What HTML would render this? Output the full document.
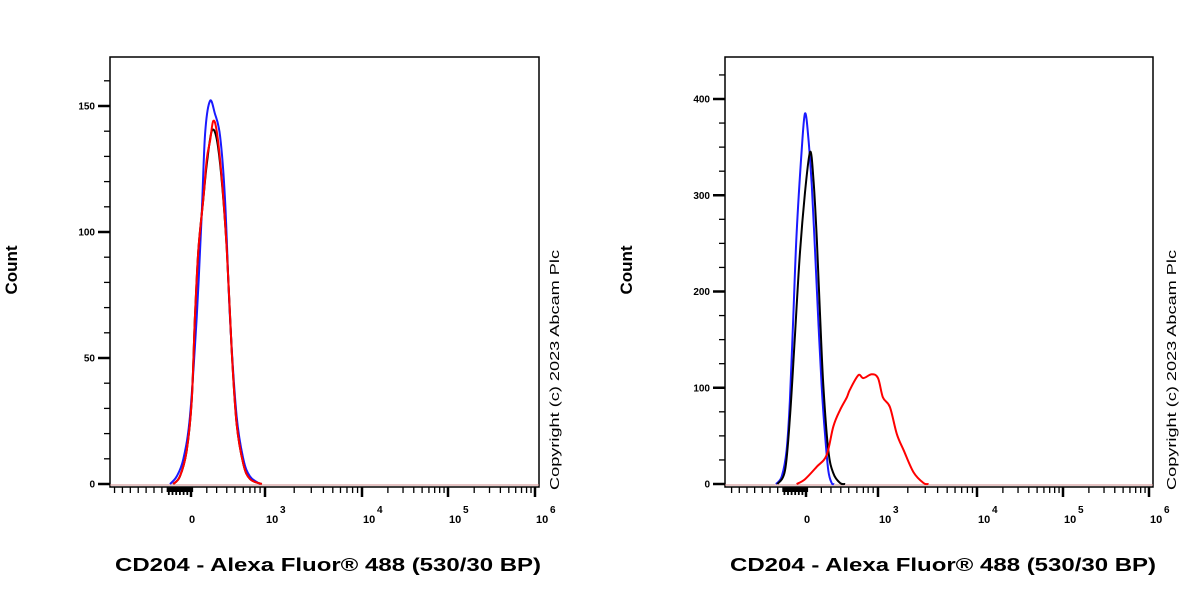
<!DOCTYPE html>
<html><head><meta charset="utf-8"><style>
html,body{margin:0;padding:0;background:#fff;}
svg{display:block;font-family:"Liberation Sans",Arial,sans-serif;}
</style></head><body>
<svg id="chart" width="1200" height="600" viewBox="0 0 1200 600" xmlns="http://www.w3.org/2000/svg"></svg>
<script>
// ---- data (x in display-decade units: 0 = "0", 3 = 10^3, 4 = 10^4 ...) ----
const xTickValues = [0, 3, 4, 5, 6];
const xTickLabels = ["0", "10|3", "10|4", "10|5", "10|6"];
const leftYTicks = [0, 50, 100, 150];
const rightYTicks = [0, 100, 200, 300, 400];

const leftBlueX = [-0.85,-0.58,-0.31,-0.04,0.23,0.43,0.57,0.77,0.97,1.18,1.38,1.58,1.85,2.12,2.39,2.8];
const leftBlueY = [0,3,10,27,66,106,139,152,147,138,113,66,27,10,3,0];
const leftBlackX = [-0.72,-0.45,-0.18,0.03,0.16,0.3,0.5,0.64,0.84,1.04,1.24,1.45,1.65,1.85,2.12,2.39,2.87];
const leftBlackY = [0,3,13,33,66,93,113,127,140,137,121,93,53,24,8,2,0];
const leftRedX = [-0.72,-0.45,-0.18,0.03,0.16,0.3,0.5,0.64,0.77,0.9,1.04,1.24,1.45,1.65,1.85,2.12,2.39,2.87];
const leftRedY = [0,3,13,33,66,93,113,129,136,144,140,122,93,53,24,8,2,0];

const rightBlueX = [-1.25,-1.01,-0.81,-0.67,-0.53,-0.39,-0.18,-0.04,0.1,0.24,0.38,0.51,0.65,0.79,0.93,1.07,1.17];
const rightBlueY = [0,8,35,87,174,260,347,385,359,310,241,172,103,52,14,1,0];
const rightBlackX = [-1.19,-0.875,-0.67,-0.46,-0.25,-0.04,0.17,0.31,0.45,0.58,0.72,0.93,1.14,1.42,1.63];
const rightBlackY = [0,14,69,155,241,303,345,317,255,179,103,35,11,1,0];
const rightRedX = [-0.39,-0.04,0.45,0.86,1.14,1.42,1.7,1.83,2.18,2.39,2.74,3.0,3.05,3.12,3.19,3.26,3.36,3.46,3.51];
const rightRedY = [0,5,18,30,60,77,90,98,113,110,114,110,90,80,52,35,12,1,0];

const NS = "http://www.w3.org/2000/svg";
const svg = document.getElementById("chart");
function el(tag, attrs, parent){
  const e = document.createElementNS(NS, tag);
  for (const k in attrs) e.setAttribute(k, attrs[k]);
  (parent||svg).appendChild(e);
  return e;
}
function smoothPath(pts){
  let d = "M" + pts[0][0].toFixed(1) + "," + pts[0][1].toFixed(1);
  for (let i=0;i<pts.length-1;i++){
    const p0 = pts[Math.max(0,i-1)], p1 = pts[i], p2 = pts[i+1], p3 = pts[Math.min(pts.length-1,i+2)];
    const c1x = p1[0] + (p2[0]-p0[0])/6, c1y = p1[1] + (p2[1]-p0[1])/6;
    const c2x = p2[0] - (p3[0]-p1[0])/6, c2y = p2[1] - (p3[1]-p1[1])/6;
    d += "C" + c1x.toFixed(1) + "," + Math.min(c1y,486).toFixed(1) + " " + c2x.toFixed(1) + "," + Math.min(c2y,486).toFixed(1) + " " + p2[0].toFixed(1) + "," + p2[1].toFixed(1);
  }
  return d;
}

function makePlot(cfg){
  const g = el("g", {});
  
  
  const knotsD = [0,3,4,5,6];
  const xs = d => {
    if (d <= 3) return cfg.xk[0] + d*(cfg.xk[1]-cfg.xk[0])/3;
    for (let i=1;i<4;i++){ if (d <= knotsD[i+1]) return cfg.xk[i] + (d-knotsD[i])*(cfg.xk[i+1]-cfg.xk[i]); }
    return cfg.xk[4];
  };
  const ys = v => cfg.y0 - v*cfg.yPer;
  const fr = el("rect", {x:cfg.L, y:57, width:cfg.R-cfg.L, height:430, fill:"none", stroke:"#000", "stroke-width":1.5}, g);
  
  
  for (let v=0; ys(v) >= 60; v+=cfg.yMinor){
    const t = el("line", {x1:cfg.L-6, x2:cfg.L, y1:ys(v), y2:ys(v), stroke:"#000", "stroke-width":1.3}, g);
    
    
  }
  cfg.yTicks.forEach(v=>{
    const t = el("line", {x1:cfg.L-12, x2:cfg.L, y1:ys(v), y2:ys(v), stroke:"#000", "stroke-width":2.5}, g);
    
    
    const tx = el("text", {x:cfg.L-15, y:ys(v)+3.5, "text-anchor":"end", "font-size":10, "font-weight":"bold"}, g);
    tx.textContent = String(v);
    
    
  });
  const axY = 487;
  const minor = [];
  for (let d=-3.1; d<-0.9; d+=0.32) minor.push(d);
  [0.64,1.04,1.45,1.78,2.12,2.39,2.59,2.8].forEach(d=>minor.push(d));
  for (let dec=3; dec<6; dec++) for (let k=2;k<10;k++) minor.push(dec+Math.log10(k));
  minor.forEach(d=>{
    const t = el("line", {x1:xs(d), x2:xs(d), y1:axY, y2:axY+6, stroke:"#000", "stroke-width":1.3}, g);
    
    
  });
  for (let d=-0.95; d<0.1; d+=0.05){
    const t = el("line", {x1:xs(d), x2:xs(d), y1:axY, y2:axY+(Math.round(d*20)%3?5:8), stroke:"#000", "stroke-width":1.8}, g);
    
    
  }
  xTickValues.forEach((d,i)=>{
    const t = el("line", {x1:xs(d), x2:xs(d), y1:axY, y2:axY+10, stroke:"#000", "stroke-width":2.5}, g);
    
    
    const parts = xTickLabels[i].split("|");
    const tx = el("text", {x:parts[1]?xs(d)+1:xs(d)+1, y:523, "text-anchor":parts[1]?"start":"middle", "font-size":11, "font-weight":"bold"}, g);
    tx.textContent = parts[0];
    
    
    if (parts[1]){
      const sp = el("text", {x:xs(d)+15, y:513, "font-size":10, "font-weight":"bold"}, g);
      sp.textContent = parts[1];
      
      
    }
  });
  const bl = el("line", {x1:cfg.L, x2:cfg.R, y1:ys(0)+1, y2:ys(0)+1, stroke:"#c88", "stroke-width":1}, g);
  
  
  cfg.series.forEach(s=>{
    const pts = s.x.map((d,i)=>[xs(d), ys(s.y[i])]);
    const p = el("path", {d:smoothPath(pts), fill:"none", stroke:s.color, "stroke-width":2, "stroke-linejoin":"round"}, g);
    
    
  });
  const yl = el("text", {x:0, y:0, transform:`translate(${cfg.countX},270) rotate(-90)`, "text-anchor":"middle", "font-size":17, "font-weight":"bold"}, g);
  yl.textContent = "Count";
  
  
  const xl = el("text", {x:cfg.titleX, y:571, "text-anchor":"middle", "font-size":18, "font-weight":"bold", textLength:426, lengthAdjust:"spacingAndGlyphs"}, g);
  xl.textContent = "CD204 - Alexa Fluor® 488 (530/30 BP)";
  
  
  const cp = el("text", {x:0, y:0, transform:`translate(${cfg.copyX},370) rotate(-90)`, "text-anchor":"middle", "font-size":13, textLength:240, lengthAdjust:"spacingAndGlyphs"}, g);
  cp.textContent = "Copyright (c) 2023 Abcam Plc";
  
  
}

makePlot({name:"left-histogram", L:110, R:539, xk:[191,265,362,448,535], y0:484, yPer:2.52, yTicks:leftYTicks, yMinor:10,
  countX:17, titleX:328, copyX:559,
  series:[{name:"left-blue-curve",color:"#1a1aff",x:leftBlueX,y:leftBlueY},
          {name:"left-black-curve",color:"#000",x:leftBlackX,y:leftBlackY},
          {name:"left-red-curve",color:"#ff0000",x:leftRedX,y:leftRedY}]});
makePlot({name:"right-histogram", L:725, R:1153, xk:[806,878,977,1063,1149], y0:484, yPer:0.9625, yTicks:rightYTicks, yMinor:25,
  countX:632, titleX:943, copyX:1176,
  series:[{name:"right-blue-curve",color:"#1a1aff",x:rightBlueX,y:rightBlueY},
          {name:"right-black-curve",color:"#000",x:rightBlackX,y:rightBlackY},
          {name:"right-red-curve",color:"#ff0000",x:rightRedX,y:rightRedY}]});
</script>
</body></html>
